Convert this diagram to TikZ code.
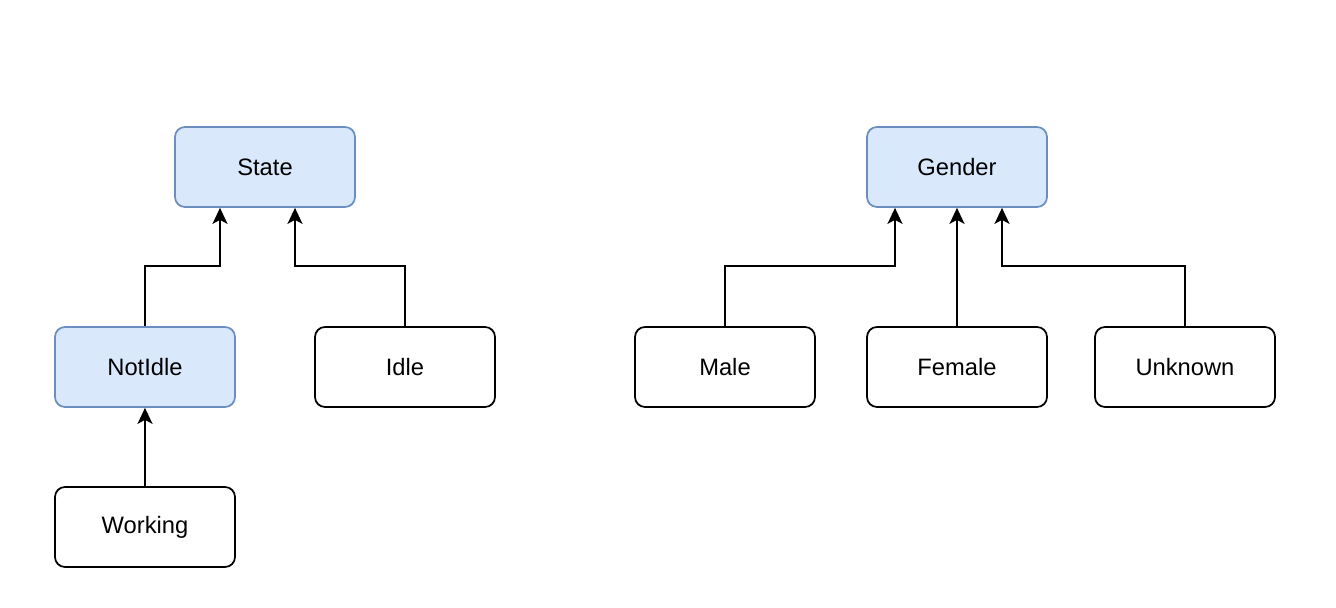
\documentclass[tikz,border=0pt]{standalone}
\usepackage{fontspec}
\setmainfont{Liberation Sans}
\usetikzlibrary{arrows.meta}
\definecolor{boxblue}{HTML}{DAE8FC}
\definecolor{lineblue}{HTML}{6C8EBF}
\begin{document}
\begin{tikzpicture}[auto,node distance=4cm,
  main node/.style={rectangle,rounded corners=0.2cm,draw=black,fill=white,line width=0.035cm,minimum width=3.6cm,minimum height=1.6cm,font=\fontsize{13.5}{16}\selectfont},
  base node/.style={main node,draw=lineblue,fill=boxblue},
  link/.style={line width=0.04cm,-{Stealth[length=0.32cm,width=0.3cm,inset=0.08cm]}}]
  \useasboundingbox (0,0) rectangle (26.72,-12.16);

  \node[base node] (state) at (5.3,-3.34) {State};
  \node[base node] (notidle) [below of=state,xshift=-2.4cm] {NotIdle};
  \node[main node] (idle) [below of=state,xshift=2.8cm] {Idle};
  \node[main node] (working) [below of=notidle,node distance=3.2cm] {Working};

  \node[base node] (gender) [right of=state,node distance=13.84cm] {Gender};
  \node[main node] (female) [below of=gender] {Female};
  \node[main node] (male) [left of=female,node distance=4.64cm] {Male};
  \node[main node] (unknown) [right of=female,node distance=4.56cm] {Unknown};

  \draw[link] (notidle.north) -- ++(0,1.2) -| ([xshift=-0.9cm]state.south);
  \draw[link] (idle.north) -- ++(0,1.2) -| ([xshift=0.6cm]state.south);
  \draw[link] (working) -- (notidle);
  \draw[link] (male.north) -- ++(0,1.2) -| ([xshift=-1.24cm]gender.south);
  \draw[link] (female) -- (gender);
  \draw[link] (unknown.north) -- ++(0,1.2) -| ([xshift=0.9cm]gender.south);
\end{tikzpicture}
\end{document}
